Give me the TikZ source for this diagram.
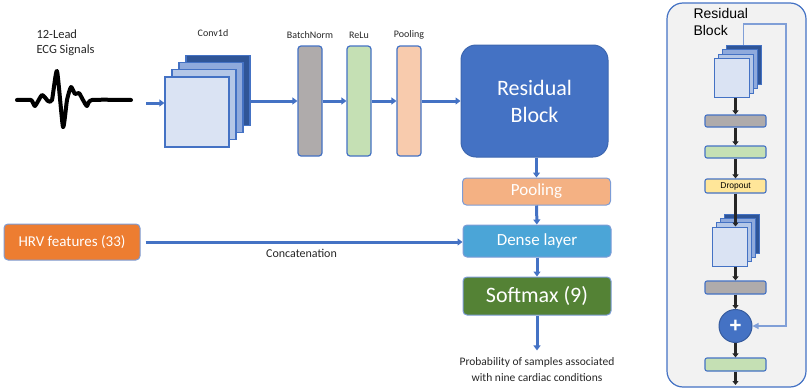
\documentclass[tikz,border=0pt]{standalone}
\usepackage{fontspec}
\setmainfont{Carlito}
\newfontfamily\panelfont{Liberation Sans}
\usepackage{tikz}
\usetikzlibrary{positioning,arrows.meta,calc}
\definecolor{MainBlue}{RGB}{68,114,196}
\definecolor{DarkBlue}{RGB}{47,85,151}
\definecolor{MidBlue}{RGB}{143,170,220}
\definecolor{SoftBlue}{RGB}{180,199,231}
\definecolor{PaleBlue}{RGB}{218,227,243}
\definecolor{BNGray}{RGB}{175,171,171}
\definecolor{ReluGreen}{RGB}{197,224,180}
\definecolor{PoolPeach}{RGB}{248,203,173}
\definecolor{PoolOrange}{RGB}{244,177,131}
\definecolor{DenseBlue}{RGB}{75,165,215}
\definecolor{SoftGreen}{RGB}{84,130,53}
\definecolor{HrvOrange}{RGB}{237,125,49}
\definecolor{DropYellow}{RGB}{255,230,153}
\definecolor{PanelGray}{RGB}{242,242,242}
\definecolor{InkGray}{RGB}{38,38,38}
\tikzset{
  layer/.style={rectangle, draw=MainBlue, line width=1.2pt, minimum width=64pt, minimum height=70pt},
  slayer/.style={rectangle, draw=MainBlue, line width=1pt, minimum width=35pt, minimum height=39pt},
  bar/.style={rectangle, rounded corners=3pt, draw=MainBlue, line width=1.2pt,
    minimum width=24pt, minimum height=110pt},
  stage/.style={rectangle, rounded corners=4pt, draw=MainBlue!70, line width=1pt,
    minimum width=148pt, text=white, font=\fontsize{17}{20}\selectfont},
  rbar/.style={rectangle, rounded corners=2pt, draw=MainBlue, line width=1.1pt,
    minimum width=61pt, inner sep=0pt},
  lbl/.style={text=InkGray, font=\fontsize{10}{12}\selectfont},
  flow/.style={-{Triangle[length=5pt,width=7pt]}, line width=3pt, draw=MainBlue},
  blk/.style={-{Triangle[length=4pt,width=6pt]}, line width=3pt, draw=black!85},
  skipline/.style={-{Triangle[length=6pt,width=6pt]}, line width=1.1pt, draw=MidBlue!80!MainBlue}
}

\begin{document}
\begin{tikzpicture}[x=1pt, y=-1pt]
  \useasboundingbox (0,0) rectangle (807,388);

  % input signal
  \node[anchor=north west, align=left, text=InkGray, font=\fontsize{12.5}{15}\selectfont]
    (ecglabel) at (33,26) {12-Lead\\ECG Signals};
  \draw[line width=4pt, line join=round, line cap=round] plot[smooth, tension=0.35] coordinates
    {(17,100) (31,100) (35,106) (42,95) (48,101) (52,100) (57,71) (63,127) (67,100)
     (71,87) (75,94) (79,93) (83,100) (87,106) (92,100) (131,100)};
  \coordinate (ecgout) at (146,103);

  % conv stack
  \foreach \i/\col in {3/DarkBlue,2/MidBlue,1/SoftBlue,0/PaleBlue}
    \node[layer, fill=\col] (conv\i) at ({197+7*\i},{112-7.3*\i}) {};
  \node[lbl] (convlabel) at (213,33) {Conv1d};

  \node[bar, fill=BNGray] (bn) at (310,101) {};
  \node[bar, fill=ReluGreen] (relu) at (359,101) {};
  \node[bar, fill=PoolPeach] (pool) at (409,101) {};
  \node[lbl, above=3pt of bn] {BatchNorm};
  \node[lbl, above=3pt of relu] {ReLu};
  \node[lbl, above=3pt of pool] {Pooling};

  \node[rectangle, rounded corners=15pt, fill=MainBlue, draw=MainBlue!90!black, line width=1pt,
    minimum width=147pt, minimum height=112pt, align=center, text=white,
    font=\fontsize{22}{27}\selectfont] (res) at (534.5,101) {Residual\\Block};

  \draw[flow] (ecgout) -- (ecgout -| conv0.west);
  \draw[flow] (conv3.east |- bn.west) -- (bn.west);
  \draw[flow] (bn) -- (relu);
  \draw[flow] (relu) -- (pool);
  \draw[flow] (pool) -- (res);

  % head
  \node[stage, fill=PoolOrange, minimum height=27pt] (gpool) at (536.5,191.5) {Pooling};
  \node[stage, fill=DenseBlue, minimum height=32pt] (dense) at (537,241) {Dense layer};
  \node[stage, fill=SoftGreen, minimum height=38pt, font=\fontsize{22}{24}\selectfont]
    (soft) at (537,296) {Softmax (9)};
  \node[align=center, text=InkGray, font=\fontsize{11.5}{16}\selectfont]
    (prob) at (537,370) {Probability of samples associated\\with nine cardiac conditions};
  \draw[flow] (res.south -| gpool.north) -- (gpool.north);
  \draw[flow] (gpool) -- (dense);
  \draw[flow] (dense) -- (soft);
  \draw[flow, shorten >=4pt] (soft) -- (prob);

  \node[rectangle, rounded corners=4pt, fill=HrvOrange, draw=MainBlue!70, line width=1pt,
    minimum width=136pt, minimum height=36pt, text=white, font=\fontsize{15}{18}\selectfont]
    (hrv) at (72,242) {HRV features (33)};
  \draw[flow, shorten <=5pt] (hrv.east) -- node[lbl, below=2pt, font=\fontsize{12}{14}\selectfont]
    {Concatenation} (hrv.east -| dense.west);

  % residual block detail
  \node[rectangle, rounded corners=16pt, fill=PanelGray, draw=MainBlue, line width=1.2pt,
    minimum width=139pt, minimum height=384pt] (panel) at (736.5,195) {};
  \node[anchor=north west, align=left, font=\panelfont\fontsize{14}{17}\selectfont]
    (rbtitle) at (690,5) {Residual\\Block};
  \foreach \i/\col in {3/DarkBlue,2/MidBlue,1/SoftBlue,0/PaleBlue}
    \node[slayer, fill=\col] (sa\i) at ({731.5+4*\i},{78-4.3*\i}) {};
  \node[rbar, fill=BNGray, minimum height=12pt] (g1) at (735.5,121) {};
  \node[rbar, fill=ReluGreen, minimum height=12pt] (r1) at (735.5,152) {};
  \node[rbar, fill=DropYellow, minimum height=14pt, font=\panelfont\fontsize{8.5}{10}\selectfont]
    (drop) at (735.5,186) {Dropout};
  \foreach \i/\col in {3/DarkBlue,2/MidBlue,1/SoftBlue,0/PaleBlue}
    \node[slayer, fill=\col] (sb\i) at ({729.5+4*\i},{246.5-4.3*\i}) {};
  \node[rbar, fill=BNGray, minimum height=13pt] (g2) at (735.5,287.5) {};
  \node[circle, fill=MainBlue, draw=MainBlue!80!black, line width=1pt, minimum size=33pt, inner sep=0pt,
    text=white, font=\panelfont\bfseries\fontsize{21}{21}\selectfont] (plus) at (735.5,326) {+};
  \node[rbar, fill=ReluGreen, minimum height=13pt] (r2) at (735.5,364.5) {};
  \coordinate (rbout) at (735.5,385);
  \coordinate (skipcorner) at (786,24);

  \draw[blk] (sa0.south -| g1.north) -- (g1.north);
  \draw[blk] (g1) -- (r1);
  \draw[blk] (r1) -- (drop);
  \draw[blk] (drop.south) -- (drop.south |- sb0.north);
  \draw[blk] (sb0.south -| g2.north) -- (g2.north);
  \draw[blk] (g2) -- (plus);
  \draw[blk] (plus) -- (r2);
  \draw[blk] (r2) -- (rbout);
  \draw[skipline] (sa3.north) |- (skipcorner) |- (plus.east);
\end{tikzpicture}
\end{document}
